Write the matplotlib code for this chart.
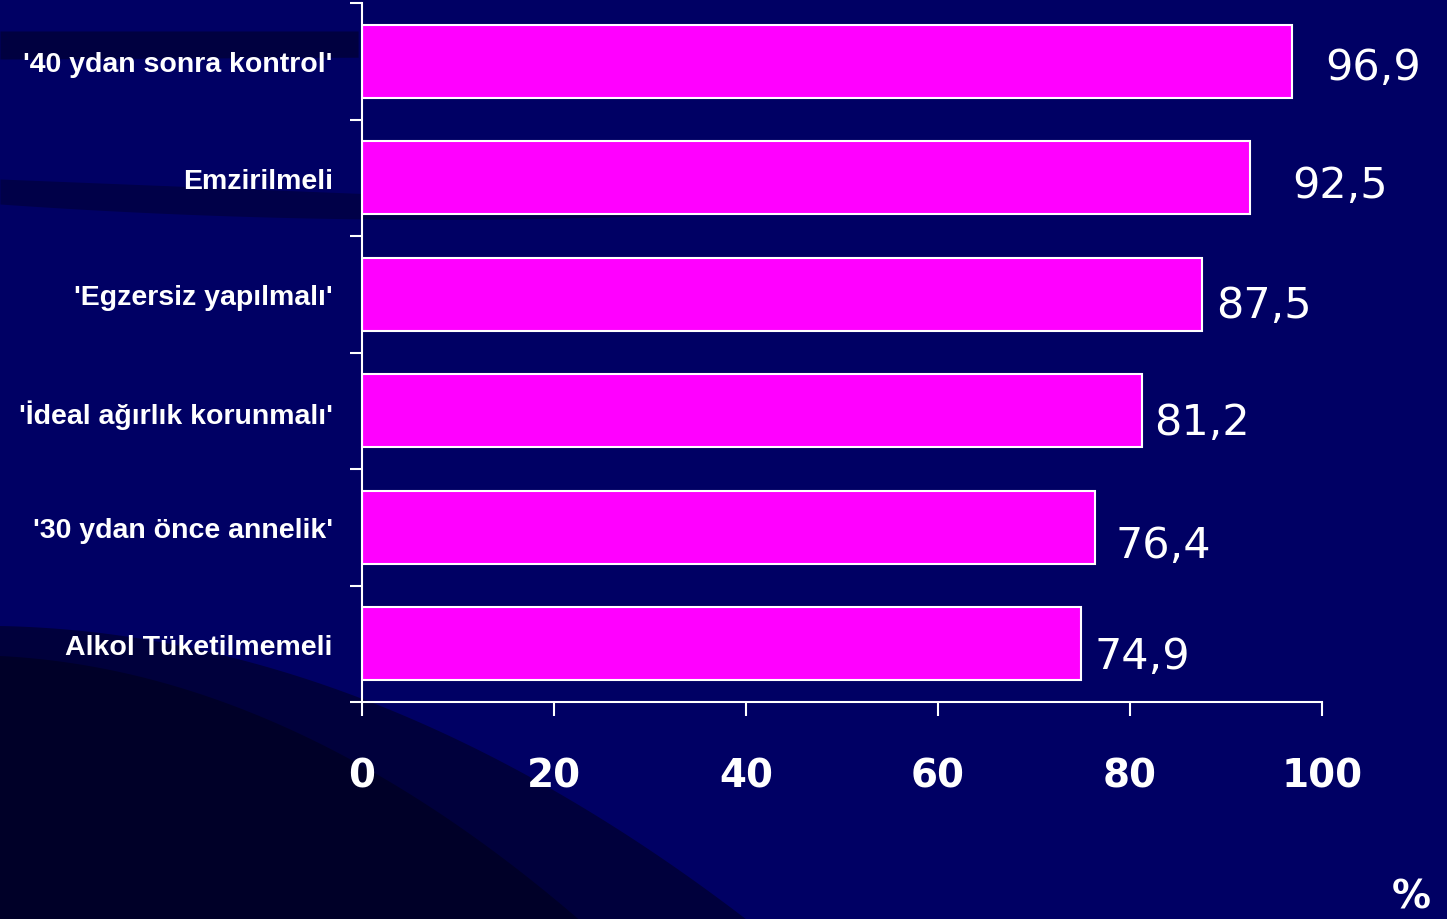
import matplotlib.pyplot as plt
import numpy as np

categories = ["'40 ydan sonra kontrol'", "Emzirilmeli", "'Egzersiz yapılmalı'",
              "'İdeal ağırlık korunmalı'", "'30 ydan önce annelik'", "Alkol Tüketilmemeli"]
values = [96.9, 92.5, 87.5, 81.2, 76.4, 74.9]
value_labels = ['96,9', '92,5', '87,5', '81,2', '76,4', '74,9']
xticks = [0, 20, 40, 60, 80, 100]

# label nudges (pixels right / down), placed by hand in the original
label_dx = [33, 42, 14, 13, 20, 13]
label_dy = [6, 7, 11, 11, 18, 12]

bg = '#000064'
fig = plt.figure(figsize=(14.47, 9.20), dpi=100, facecolor=bg)

# background swooshes (decoration only)
deco = fig.add_axes([0, 0, 1, 1], zorder=0)
deco.set_xlim(0, 1447)
deco.set_ylim(920, 0)
deco.axis('off')
xx = np.linspace(0, 1447, 300)
m = xx < 362
deco.fill_between(xx[m], 32 + 0 * xx[m], 60 - 0.005 * xx[m], color='#000040', lw=0)
m = xx < 777
top = 180 + 0.04 * xx[m]
thick = np.clip(25 + 0.03 * xx[m] - 0.00008 * xx[m]**2, 0, None)
deco.fill_between(xx[m], top, top + thick, color='#000048', lw=0)
deco.fill_between(xx, 627 + 0.0005 * xx**2 + 0.02 * xx, 920, color='#00003c', lw=0)
deco.fill_between(xx, 657 + 0.0007 * xx**2 + 0.05 * xx, 920, color='#000028', lw=0)

ax = fig.add_axes([362 / 1447, 1 - 703 / 920, (1322 - 362) / 1447, 699 / 920], zorder=1)
ax.patch.set_alpha(0)

y = np.arange(len(categories))
ax.barh(y, values, height=0.63, color='#ff00ff', edgecolor='white', linewidth=1.5)

for i, (v, lab) in enumerate(zip(values, value_labels)):
    ax.annotate(lab, (v, i), xytext=(label_dx[i] * 0.72, -label_dy[i] * 0.72),
                textcoords='offset points', ha='left', va='center', color='white', fontsize=31)

ax.set_xlim(0, 100)
ax.set_ylim(len(categories) - 0.5, -0.5)
ax.set_xticks(xticks)
ax.set_xticklabels([str(t) for t in xticks], fontsize=28, fontweight='bold', color='white')
ax.set_yticks(np.arange(len(categories) + 1) - 0.5, minor=False)
ax.set_yticklabels([])
ax.set_yticks(y, minor=True)
ax.set_yticklabels(categories, minor=True, fontsize=20.5, fontweight='bold', color='white',
                   family='Liberation Sans')
ax.tick_params(axis='y', which='major', length=9, width=1.5, color='white')
ax.tick_params(axis='y', which='minor', length=0, pad=21)
ax.tick_params(axis='x', length=10, width=1.5, color='white', pad=29)

for s in ['top', 'right']:
    ax.spines[s].set_visible(False)
for s in ['left', 'bottom']:
    ax.spines[s].set_color('white')
    ax.spines[s].set_linewidth(1.5)

fig.text(1411 / 1447, 1 - 898 / 920, '%', color='white', fontsize=28, fontweight='bold',
         ha='center', va='center')

fig.savefig('out.png', dpi=100, facecolor=bg)
